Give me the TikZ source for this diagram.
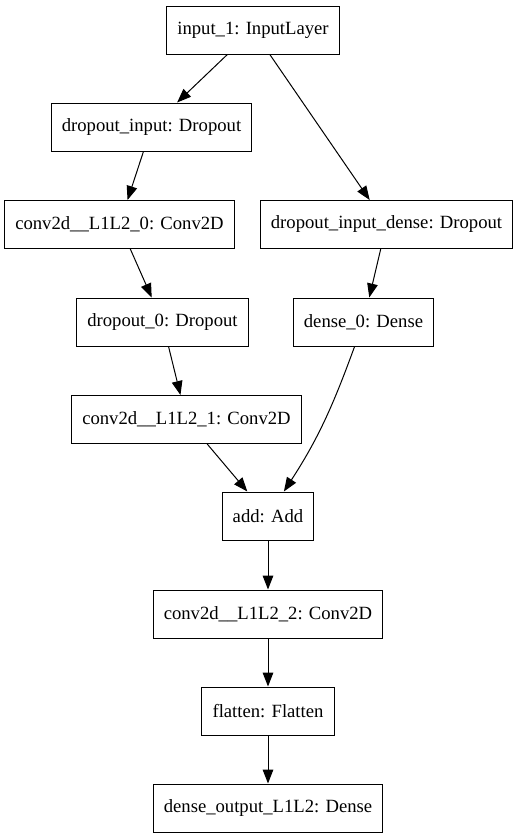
\documentclass[tikz,border=0pt]{standalone}
\usepackage{fontspec}
\setmainfont{Liberation Serif}
\usepackage{tikz}
\usetikzlibrary{arrows.meta}

\begin{document}
\begin{tikzpicture}[x=0.75pt, y=-0.75pt,
    layer/.style={draw, line width=0.75pt, minimum height=36pt, inner xsep=8pt,
        font=\fontsize{14}{16}\selectfont},
    edge/.style={line width=0.75pt, -{Triangle[length=10.5pt,width=8pt]}}]
    \useasboundingbox (0,0) rectangle (519,839);

    % Input layer
    \node[layer] (in1) at (253,30) {input\_1: InputLayer};

    % Left branch
    \node[layer] (dropin) at (151.5,127) {dropout\_input: Dropout};
    \node[layer] (conv0) at (119.5,224.5) {conv2d\_\_L1L2\_0: Conv2D};
    \node[layer] (drop0) at (162.5,322) {dropout\_0: Dropout};
    \node[layer] (conv1) at (186.5,419.5) {conv2d\_\_L1L2\_1: Conv2D};

    % Right branch
    \node[layer] (dropind) at (386.5,224.5) {dropout\_input\_dense: Dropout};
    \node[layer] (dense0) at (363.5,322) {dense\_0: Dense};

    % Merge and output
    \node[layer] (add) at (268,516) {add: Add};
    \node[layer] (conv2) at (268,614) {conv2d\_\_L1L2\_2: Conv2D};
    \node[layer] (flat) at (268,711) {flatten: Flatten};
    \node[layer] (dout) at (268,808) {dense\_output\_L1L2: Dense};

    % Connections
    \draw[edge] (in1) -- (dropin);
    \draw[edge] (in1) -- (dropind);
    \draw[edge] (dropin) -- (conv0);
    \draw[edge] (conv0) -- (drop0);
    \draw[edge] (drop0) -- (conv1);
    \draw[edge] (dropind) -- (dense0);
    \draw[edge] (conv1) -- (add);
    \draw[edge] (dense0) to[out=250, in=57] (add);
    \draw[edge] (add) -- (conv2);
    \draw[edge] (conv2) -- (flat);
    \draw[edge] (flat) -- (dout);
\end{tikzpicture}
\end{document}
